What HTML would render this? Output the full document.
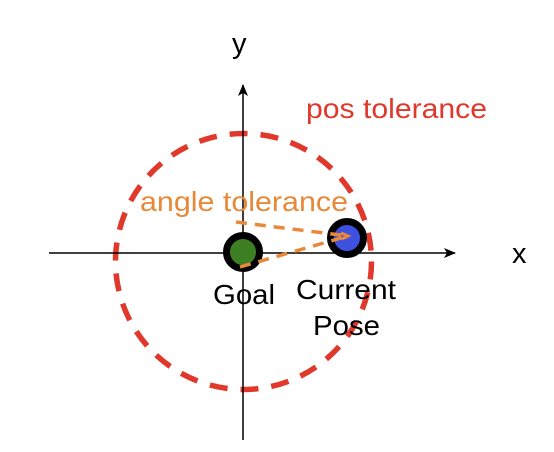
<!DOCTYPE html>
<html><head><meta charset="utf-8"><style>
html,body{margin:0;padding:0;background:#fff;}
svg{display:block;font-family:"Liberation Sans",Arial,sans-serif;}
</style></head><body>
<svg width="554" height="452" viewBox="0 0 554 452">
  <defs>
    <marker id="ah" markerWidth="12" markerHeight="10" refX="11" refY="5" orient="auto" markerUnits="userSpaceOnUse">
      <path d="M0,0 L12,5 L0,10 L3,5 Z" fill="#000"/>
    </marker>
  </defs>
  <circle cx="243.5" cy="261.5" r="128" fill="none" stroke="#e0382a" stroke-width="5.5" stroke-dasharray="18 13"/>
  <line x1="49" y1="253" x2="455" y2="253" stroke="#000" stroke-width="1.5" marker-end="url(#ah)"/>
  <line x1="243" y1="440" x2="243" y2="85" stroke="#000" stroke-width="1.5" marker-end="url(#ah)"/>
  <text x="232" y="53" font-size="29">y</text>
  <text x="512" y="263" font-size="29">x</text>
  <text x="306" y="118" font-size="28" fill="#e0382a" textLength="181" lengthAdjust="spacingAndGlyphs">pos tolerance</text>
  <g>
    <circle cx="243" cy="252" r="16.5" fill="#3f7f24" stroke="#000" stroke-width="7"/>
  </g>
  <g>
    <circle cx="347" cy="238" r="16.5" fill="#3e50e0" stroke="#000" stroke-width="7"/>
  </g>
  <line x1="236" y1="222" x2="348" y2="236" stroke="#e8893a" stroke-width="3.5" stroke-dasharray="11 8"/>
  <line x1="240" y1="267" x2="348" y2="236" stroke="#e8893a" stroke-width="3.5" stroke-dasharray="11 8"/>
  <path d="M341,233 L348,236 L342,239" fill="none" stroke="#e8893a" stroke-width="3"/>
  <text x="140" y="211" font-size="28" fill="#e8893a" textLength="208" lengthAdjust="spacingAndGlyphs">angle tolerance</text>
  <text x="213" y="304" font-size="28" textLength="62" lengthAdjust="spacingAndGlyphs">Goal</text>
  <text x="296" y="299" font-size="28" textLength="100" lengthAdjust="spacingAndGlyphs">Current</text>
  <text x="313" y="335" font-size="28" textLength="67" lengthAdjust="spacingAndGlyphs">Pose</text>
</svg>
</body></html>
